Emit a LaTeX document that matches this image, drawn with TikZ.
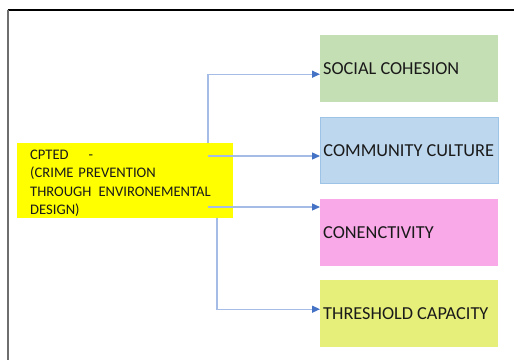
\documentclass[tikz,border=0pt]{standalone}
\usepackage{fontspec}
\setmainfont{Carlito}
\usetikzlibrary{arrows.meta}
\definecolor{framegray}{HTML}{6E6E6E}
\definecolor{cptedyellow}{HTML}{FFFF00}
\definecolor{socgreen}{HTML}{C5DFB4}
\definecolor{comblue}{HTML}{BDD7EE}
\definecolor{comborder}{HTML}{9DC3E6}
\definecolor{conpink}{HTML}{F9A8E8}
\definecolor{threshyellow}{HTML}{E6EF7A}
\definecolor{linkblue}{HTML}{A4BCE6}
\definecolor{tipblue}{HTML}{4472C4}
\definecolor{txt}{HTML}{1A1A1A}
\newcommand{\boxlabel}[1]{\makebox[172pt][l]{#1}}
\begin{document}
\begin{tikzpicture}[x=1pt,y=-1pt,
  outcome/.style={rectangle, minimum width=178pt, minimum height=67pt,
    inner xsep=2.5pt, inner ysep=0pt, anchor=north west, text=txt,
    font=\fontsize{18.3}{20}\selectfont},
  link/.style={draw=linkblue, line width=1.3pt,
    -{Triangle[length=8pt,width=7pt,color=tipblue]}}]
  \useasboundingbox (0,0) rectangle (514,360);
  \fill[white] (0,0) rectangle (514,360);

  % page frame
  \draw[black, line width=1.2pt] (7.5,10) -- (514,10);
  \draw[framegray, line width=2pt] (8,9.5) -- (8,360);

  % source box
  \node[rectangle, fill=cptedyellow, anchor=north west,
        minimum width=216pt, minimum height=75pt,
        inner xsep=13pt, inner ysep=0pt, text width=190pt, align=left,
        text=txt, font=\fontsize{14.6}{18.5}\selectfont]
    (cpted) at (17,143)
    {\mbox{\rule{0pt}{15pt}CPTED\hspace{20pt}-}\\
     \mbox{(CRIME PREVENTION}\\
     \mbox{THROUGH\hspace{7pt}ENVIRONEMENTAL}\\
     \mbox{DESIGN)}};

  % outcome boxes
  \node[outcome, fill=socgreen] (soc) at (320,35) {\boxlabel{SOCIAL COHESION}};
  \node[outcome, fill=comblue, draw=comborder, line width=0.8pt,
        minimum height=66pt] (com) at (320,117) {\boxlabel{COMMUNITY CULTURE}};
  \node[outcome, fill=conpink] (con) at (320,199) {\boxlabel{CONENCTIVITY}};
  \node[outcome, fill=threshyellow] (thr) at (320,280) {\boxlabel{THRESHOLD CAPACITY}};

  % connector start points on the source box
  \coordinate (p1) at (208,143);
  \coordinate (p2) at (208,156);
  \coordinate (p3) at (208,207);
  \coordinate (p4) at (217,218);

  % connectors
  \draw[link] (p1) |- ([yshift=-5.5pt]soc.west);
  \draw[link] (p2) -- (p2 -| com.west);
  \draw[link] (p3) -- (p3 -| con.west);
  \draw[link] (p4) |- ([yshift=4.5pt]thr.west);
\end{tikzpicture}
\end{document}
